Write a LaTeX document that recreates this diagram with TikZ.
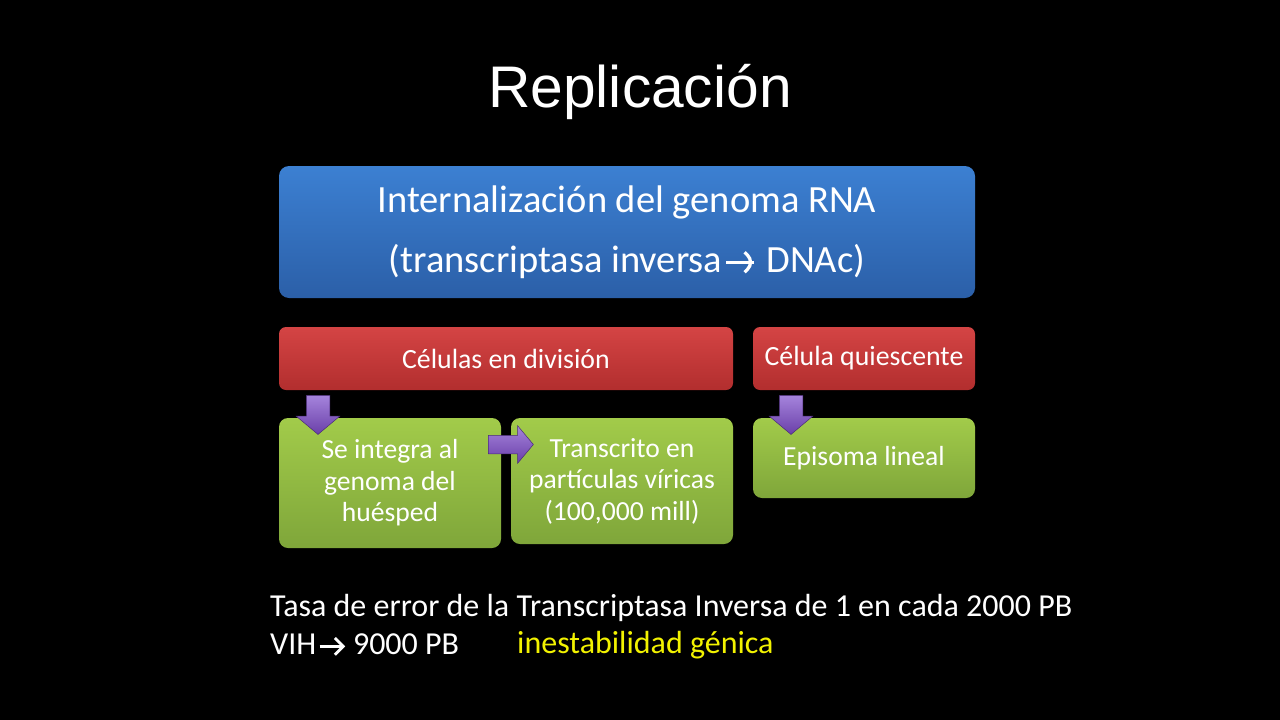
\documentclass[tikz,border=0pt]{standalone}
\usepackage{fontspec}
\setmainfont{Carlito}
\newfontfamily\titlefont{Liberation Sans}
\usetikzlibrary{shapes.arrows,shadows}
\definecolor{bluetop}{HTML}{3C80D2}
\definecolor{bluebot}{HTML}{2B5FA8}
\definecolor{redtop}{HTML}{D44444}
\definecolor{redbot}{HTML}{B22E2E}
\definecolor{greentop}{HTML}{A2CB4A}
\definecolor{greenbot}{HTML}{7FA63A}
\definecolor{purptop}{HTML}{A584DC}
\definecolor{purpbot}{HTML}{6A3FA8}
\definecolor{yellowtxt}{HTML}{F2F200}
\newcommand{\warr}{\tikz[baseline=0pt,x=1em,y=1em,line width=0.085em]{\path (0,0) (0.92,0);
  \draw[white] (0.1,0.26)--(0.82,0.26);
  \draw[white,line join=miter] (0.58,0.52)--(0.84,0.26)--(0.58,0.0);}}
\tikzset{
  boxbase/.style={draw=none, text=white, align=center, inner sep=0pt},
  bluebox/.style={boxbase, rounded corners=10pt, top color=bluetop, bottom color=bluebot,
    minimum width=696pt, minimum height=132pt, font=\fontsize{38.5}{60}\selectfont},
  redbox/.style={boxbase, rounded corners=7pt, top color=redtop, bottom color=redbot,
    minimum height=63pt, font=\fontsize{27.8}{30}\selectfont},
  greenbox/.style={boxbase, rounded corners=9pt, top color=greentop, bottom color=greenbot,
    minimum width=222pt, font=\fontsize{27.6}{31.5}\selectfont},
  blockarrow/.style={single arrow, draw=purpbot!70!black, line width=0.5pt,
    top color=purptop, bottom color=purpbot,
    single arrow head extend=10pt, single arrow tip angle=100},
  downarrow/.style={blockarrow, shape border rotate=270, inner xsep=11.5pt, inner ysep=0pt, minimum height=39pt},
  rightarrow/.style={blockarrow, inner ysep=9pt, inner xsep=0pt, single arrow head extend=9.5pt, minimum height=45pt},
  bottomtext/.style={anchor=west, inner sep=0pt, font=\fontsize{32}{36}\selectfont},
}
\begin{document}
\begin{tikzpicture}[x=1pt,y=-1pt]
\fill[black] (0,0) rectangle (1280,720);
\useasboundingbox (0,0) rectangle (1280,720);

\node[font=\titlefont\fontsize{58.7}{60}\selectfont, text=white] (title) at (640,92) {Replicación};

\node[bluebox] (top) at (627,232) {Internalización del genoma RNA\\(transcriptasa inversa\warr{} DNAc)};

\node[redbox, minimum width=454pt] (div) at (506,358.5) {Células en división};
\node[redbox, minimum width=222pt] (qui) at (864,358.5) {Célula quiescente};

\node[greenbox, minimum height=130pt] (integ) at (390,483) {Se integra al\\genoma del\\huésped};
\node[greenbox, minimum height=126pt] (trans) at (622,481) {Transcrito en\\partículas víricas\\(100,000 mill)};
\node[greenbox, minimum height=80pt] (epi) at (864,458) {Episoma lineal};

\node[downarrow] (a1) at (318,410) {};
\node[downarrow] (a2) at (791,410) {};
\node[rightarrow] (a3) at (507,444.5) {};

\node[bottomtext, text=white] (rate) at (270,608) {Tasa de error de la Transcriptasa Inversa de 1 en cada 2000 PB};
\node[bottomtext, text=white] (vih) at (270,645) {VIH\warr{} 9000 PB};
\node[bottomtext, text=yellowtxt] (inest) at (517,645) {inestabilidad génica};
\end{tikzpicture}
\end{document}
